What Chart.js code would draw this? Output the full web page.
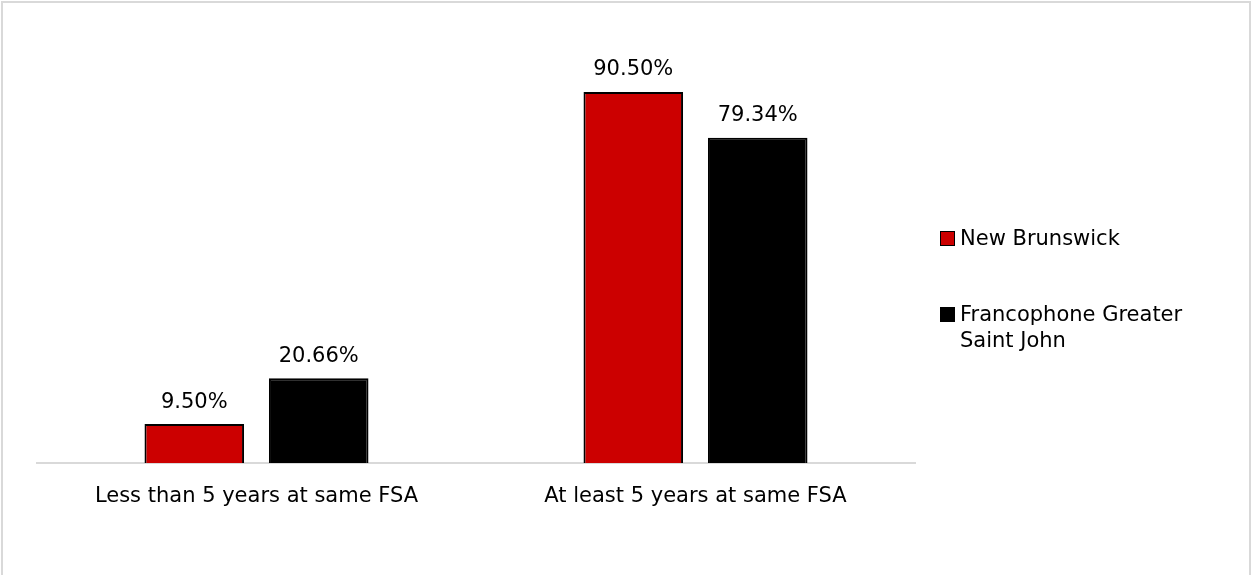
<!DOCTYPE html>
<html>
<head>
<meta charset="utf-8">
<script src="https://cdn.jsdelivr.net/npm/chart.js@4/dist/chart.umd.min.js"></script>
<style>
  html, body { margin: 0; padding: 0; background: #ffffff; }
  #wrap { position: relative; width: 1251px; height: 575px; overflow: hidden; }
  #frame { position: absolute; left: 1px; top: 1px; width: 1250px; height: 620px; border: 2px solid #d9d9d9; box-sizing: border-box; pointer-events: none; }
  #chart { position: absolute; left: 0; top: 0; }
  #legend { position: absolute; left: 940px; top: 225px; width: 280px; font-family: "DejaVu Sans", sans-serif; font-size: 21px; color: #000; }
  .item { display: flex; align-items: flex-start; line-height: 26px; margin-bottom: 50px; }
  .box { flex: 0 0 auto; width: 13px; height: 13px; border: 1px solid #000; margin-top: 6px; margin-right: 5px; }
</style>
</head>
<body>
<div id="wrap">
  <canvas id="chart" width="1251" height="575"></canvas>
  <div id="frame"></div>
  <div id="legend"></div>
</div>
<script>
const categories = ["Less than 5 years at same FSA", "At least 5 years at same FSA"];
const seriesNames = ["New Brunswick", "Francophone Greater Saint John"];
const newBrunswick = [9.50, 90.50];
const francophoneGSJ = [20.66, 79.34];
const valueLabels = [["9.50%", "90.50%"], ["20.66%", "79.34%"]];

const FONT = "DejaVu Sans";
const FONT_SIZE = 21;

const labelPlugin = {
  id: 'valueLabels',
  afterDatasetsDraw(chart) {
    const ctx = chart.ctx;
    ctx.save();
    ctx.font = FONT_SIZE + "px '" + FONT + "'";
    ctx.fillStyle = '#000';
    ctx.textAlign = 'center';
    ctx.textBaseline = 'middle';
    chart.data.datasets.forEach((ds, di) => {
      const meta = chart.getDatasetMeta(di);
      meta.data.forEach((el, i) => {
        ctx.fillText(valueLabels[di][i], el.x, el.y - 22);
      });
    });
    ctx.restore();
  }
};

const chart = new Chart(document.getElementById('chart'), {
  type: 'bar',
  data: {
    labels: categories,
    datasets: [
      { label: seriesNames[0], data: newBrunswick, backgroundColor: '#cc0000', borderColor: '#000000', borderWidth: 2 },
      { label: seriesNames[1], data: francophoneGSJ, backgroundColor: '#000000', borderColor: '#000000', borderWidth: 2 }
    ]
  },
  options: {
    responsive: false,
    animation: false,
    devicePixelRatio: 1,
    categoryPercentage: 0.567,
    barPercentage: 0.8,
    layout: { padding: { left: 37, right: 336, top: 53, bottom: 52 } },
    plugins: { legend: { display: false }, tooltip: { enabled: false } },
    scales: {
      x: {
        grid: { display: false },
        border: { display: true, color: '#d9d9d9', width: 2 },
        ticks: { color: '#000', padding: 13, font: { family: FONT, size: FONT_SIZE } },
        afterFit(scale) { scale.height = 60; }
      },
      y: { display: false, min: 0, max: 100 }
    }
  },
  plugins: [labelPlugin]
});

const legend = document.getElementById('legend');
chart.data.datasets.forEach(ds => {
  const item = document.createElement('div');
  item.className = 'item';
  const box = document.createElement('span');
  box.className = 'box';
  box.style.background = ds.backgroundColor;
  const txt = document.createElement('span');
  txt.textContent = ds.label;
  item.appendChild(box);
  item.appendChild(txt);
  legend.appendChild(item);
});
</script>
</body>
</html>
